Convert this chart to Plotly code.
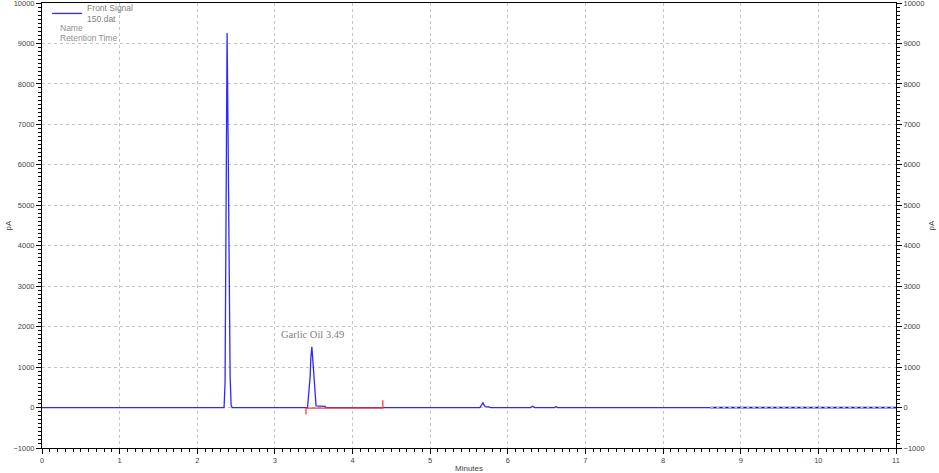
import plotly.graph_objects as go

# Chromatogram (Front Signal, 150.dat)
signal_time = [0.0, 2.345, 2.358, 2.371, 2.384, 2.397, 2.410, 2.423, 2.436, 2.449,
               3.420, 3.432, 3.454, 3.463, 3.476, 3.488, 3.505, 3.518, 3.530, 3.647, 3.660,
               5.640, 5.665, 5.680, 5.695, 5.710, 5.760, 5.780,
               6.290, 6.320, 6.350, 6.600, 6.620, 6.640, 11.0]
signal_pA = [0, 0, 620, 5460, 9260, 6690, 3730, 770, 60, 0,
             0, 280, 770, 1230, 1500, 1185, 690, 120, 40, 30, 0,
             0, 60, 115, 60, 20, 15, 0,
             0, 30, 0, 0, 25, 0, 0]

# Integration baseline for the labelled peak
baseline_time = [3.40, 3.40, 4.39, 4.39]
baseline_pA = [-170, -15, -15, 180]

# Late baseline segment
tail_time = [8.61, 11.0]
tail_pA = [0, 0]

peak_label = "Garlic Oil 3.49"
peak_label_time = 3.49
peak_label_pA = 1620

x_range = [0, 11]
y_range = [-1000, 10000]
x_ticks = list(range(0, 12))
y_ticks = list(range(-1000, 10001, 1000))

tick_font = dict(family="Liberation Sans", size=7.5, color="#444")
grid_color = "#c4c4c4"

fig = go.Figure()
fig.add_trace(go.Scatter(x=signal_time, y=signal_pA, mode="lines",
                         line=dict(color="#2a2aff", width=1.3),
                         name="Front Signal<br>150.dat"))
fig.add_trace(go.Scatter(x=baseline_time, y=baseline_pA, mode="lines",
                         line=dict(color="#ff3b3b", width=1.3), showlegend=False))
fig.add_trace(go.Scatter(x=tail_time, y=tail_pA, mode="lines",
                         line=dict(color="#1010b0", width=1.6), showlegend=False))
fig.add_trace(go.Scatter(x=tail_time, y=tail_pA, mode="lines",
                         line=dict(color="#c8c8c8", width=1, dash="dot"), showlegend=False))
fig.add_trace(go.Scatter(x=[None], y=[None], yaxis="y2", showlegend=False))

axis_common = dict(showline=True, linecolor="black", linewidth=1, ticks="outside",
                   tickcolor="black", ticklen=5, tickfont=tick_font, automargin=False,
                   ticklabeloverflow="allow",
                   showgrid=True, gridcolor=grid_color, griddash="dot", gridwidth=1,
                   zeroline=False)

fig.update_layout(
    width=939, height=473,
    margin=dict(l=42, r=43, t=3, b=25, autoexpand=False),
    paper_bgcolor="white", plot_bgcolor="white",
    xaxis=dict(range=x_range, tickvals=x_ticks, mirror=True,
               minor=dict(dtick=0.1, ticklen=3, tickcolor="black", ticks="outside"),
               **axis_common),
    yaxis=dict(range=y_range, tickvals=y_ticks, tickformat="d",
               minor=dict(dtick=100, ticklen=3, tickcolor="black", ticks="outside"),
               **axis_common),
    yaxis2=dict(range=y_range, tickvals=y_ticks, tickformat="d", overlaying="y", side="right",
                showline=True, linecolor="black", linewidth=1, ticks="outside",
                tickcolor="black", ticklen=5, tickfont=tick_font, showgrid=False,
                zeroline=False, automargin=False, ticklabeloverflow="allow",
                minor=dict(dtick=100, ticklen=3, tickcolor="black", ticks="outside")),
    legend=dict(x=0.006, y=1.016, xanchor="left", yanchor="top",
                bgcolor="rgba(0,0,0,0)", itemwidth=30,
                font=dict(family="Liberation Sans", size=8.5, color="#808080"),
                tracegroupgap=0),
    showlegend=True,
)

fig.add_annotation(x=0.0187, y=0.944, xref="paper", yref="paper", text="Name",
                   showarrow=False, xanchor="left", yanchor="middle",
                   font=dict(family="Liberation Sans", size=8.5, color="#909090"))
fig.add_annotation(x=0.0187, y=0.922, xref="paper", yref="paper", text="Retention Time",
                   showarrow=False, xanchor="left", yanchor="middle",
                   font=dict(family="Liberation Sans", size=8.5, color="#909090"))
fig.add_annotation(x=peak_label_time, y=peak_label_pA, text=peak_label, showarrow=False,
                   xanchor="center", yanchor="bottom",
                   font=dict(family="Liberation Serif", size=10.5, color="#808080"))
fig.add_annotation(x=0, y=0.5, xref="paper", yref="paper", text="pA", textangle=-90,
                   showarrow=False, xanchor="center", yanchor="middle", xshift=-34,
                   font=dict(family="Liberation Sans", size=8, color="#444"))
fig.add_annotation(x=1, y=0.5, xref="paper", yref="paper", text="pA", textangle=-90,
                   showarrow=False, xanchor="center", yanchor="middle", xshift=35,
                   font=dict(family="Liberation Sans", size=8, color="#444"))
fig.add_annotation(x=0.5, y=0, xref="paper", yref="paper", text="Minutes",
                   showarrow=False, xanchor="center", yanchor="middle", yshift=-20,
                   font=dict(family="Liberation Sans", size=8, color="#444"))

fig.write_html("out.html", config={"displayModeBar": False},
               post_script="document.body.style.margin='0';")
